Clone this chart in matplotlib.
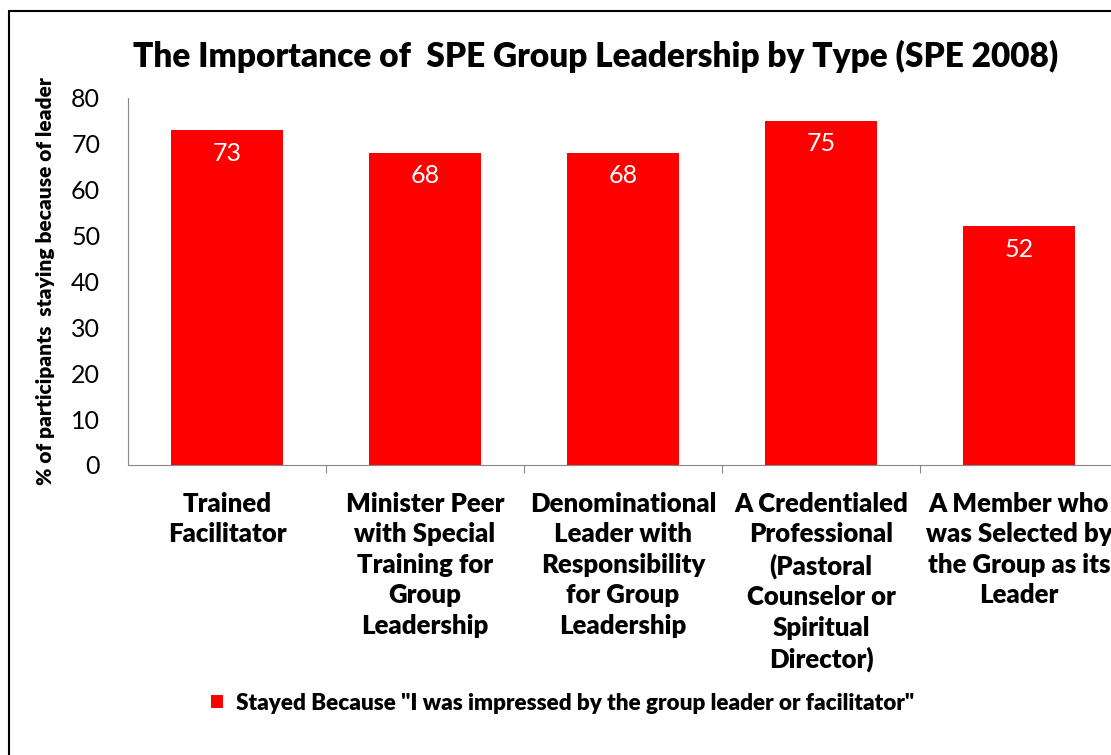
import matplotlib.pyplot as plt
from matplotlib.patches import Rectangle

categories = ["Trained\nFacilitator",
              "Minister Peer\nwith Special\nTraining for\nGroup\nLeadership",
              "Denominational\nLeader with\nResponsibility\nfor Group\nLeadership",
              "A Credentialed\nProfessional\n(Pastoral\nCounselor or\nSpiritual\nDirector)",
              "A Member who\nwas Selected by\nthe Group as its\nLeader"]
values = [73, 68, 68, 75, 52]
series_name = 'Stayed Because "I was impressed by the group leader or facilitator"'

plt.rcParams['font.family'] = ['Lato', 'DejaVu Sans']
BOLD = "heavy"

fig = plt.figure(figsize=(11.11, 7.55), dpi=100)
W, H = 1111, 755
ax = fig.add_axes([128 / W, (H - 465) / H, 990 / W, (465 - 98) / H])

x = range(len(values))
bars = ax.bar(x, values, width=0.566, color="#ff0000", label=series_name)
for xi, v in zip(x, values):
    ax.text(xi, v - 5.0, str(v), ha="center", va="center", color="white", fontsize=18)

ax.set_xlim(-0.5, len(values) - 0.5)
ax.set_ylim(0, 80)
ax.set_yticks(range(0, 81, 10))
ax.tick_params(axis="y", length=0, labelsize=18, pad=20)
ax.set_xticks([i + 0.5 for i in range(len(values) - 1)])
ax.set_xticklabels([])
ax.tick_params(axis="x", length=6, color="#888888", direction="out")
for i, lab in enumerate(categories):
    ax.text(i, -5.8, lab, ha="center", va="top", fontsize=18.5, fontweight=BOLD,
            linespacing=1.33, transform=ax.transData)
for s in ["top", "right"]:
    ax.spines[s].set_visible(False)
for s in ["left", "bottom"]:
    ax.spines[s].set_color("#888888")

ax.set_ylabel("% of participants  staying because of leader", fontsize=15,
              fontweight=BOLD)
ax.yaxis.set_label_coords(-0.074, 0.5)

fig.text(596 / W, 1 - 56 / H, "The Importance of  SPE Group Leadership by Type (SPE 2008)",
         ha="center", va="center", fontsize=24, fontweight=BOLD)

fig.legend(handles=[bars], labels=[series_name], loc="center left",
           bbox_to_anchor=(200 / W, 1 - 703 / H), frameon=False,
           prop={"weight": BOLD, "size": 16.2}, handlelength=0.5, handleheight=0.5,
           handletextpad=0.6, borderpad=0)

fig.patches.append(Rectangle((9 / W, -0.1), 1.2, 1 - 11 / H + 0.1, transform=fig.transFigure,
                             fill=False, edgecolor="black", linewidth=1.5))

fig.savefig("out.png", dpi=100)
